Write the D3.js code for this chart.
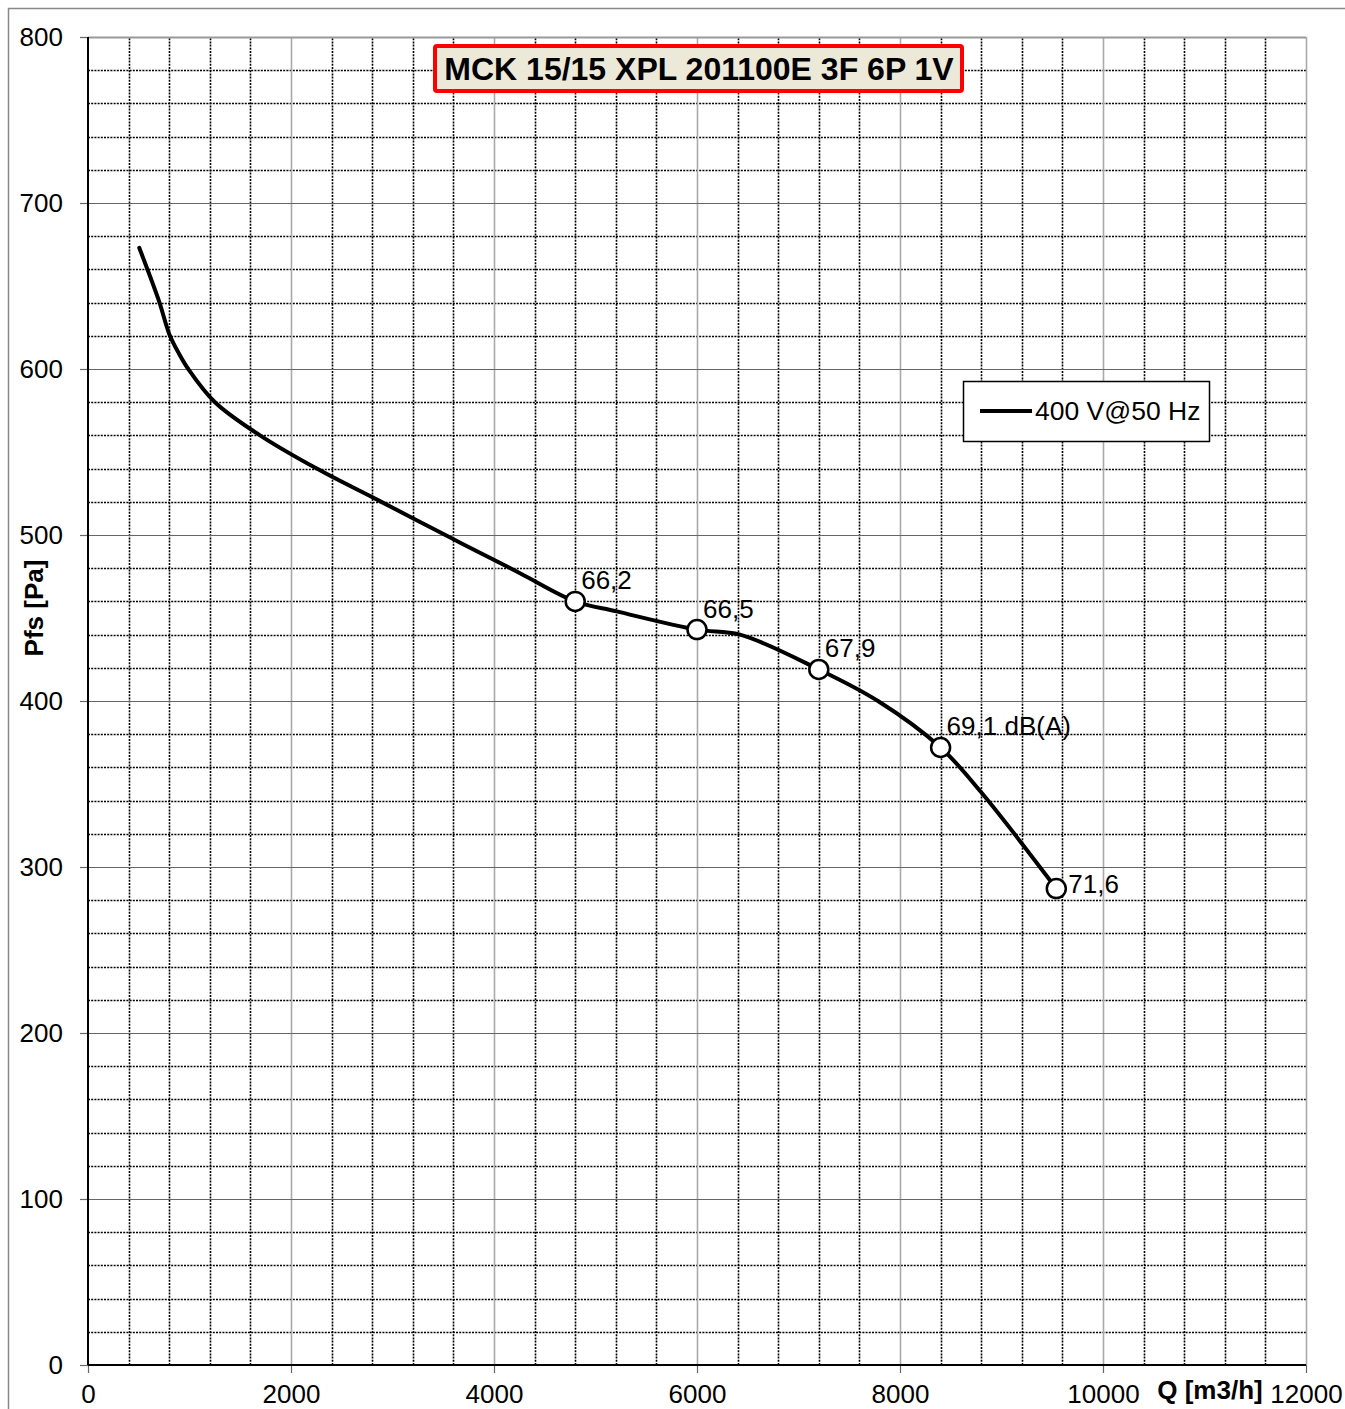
<!DOCTYPE html>
<html>
<head>
<meta charset="utf-8">
<script src="https://cdn.jsdelivr.net/npm/d3@7"></script>
<style>
body { margin: 0; background: #fff; }
text { font-family: "Liberation Sans", Arial, sans-serif; }
</style>
</head>
<body>
<div id="chart"></div>
<script>
// curve: Q [m3/h], Pfs [Pa]
var curveQ = [505, 699, 801, 890, 988, 1251, 1695, 2253, 2857, 3583, 4256, 4800, 5208, 6000, 6424, 7200, 7783, 8400, 8800, 9540];
var curveP = [673, 641, 621, 610, 600, 580, 560, 540, 521, 498, 477, 460, 454, 443, 440, 419, 400, 372, 345, 287];

// marked points with noise level
var markQ = [4800, 6000, 7200, 8400, 9540];
var markP = [460, 443, 419, 372, 287];
var markLabel = ["66,2", "66,5", "67,9", "69,1 dB(A)", "71,6"];
var markSide = ["above", "above", "above", "above", "right"];

var xTicks = [0, 2000, 4000, 6000, 8000, 10000, 12000];
var yTicks = [0, 100, 200, 300, 400, 500, 600, 700, 800];

var title = "MCK 15/15 XPL 201100E 3F 6P 1V";
var seriesName = "400 V@50 Hz";

var W = 1345, H = 1409;
var margin = {top: 37, right: 39, bottom: 44, left: 88};

var svg = d3.select("#chart")
  .append("svg")
  .attr("width", W)
  .attr("height", H);

// outer frame
svg.append("path")
  .attr("d", "M8.5," + H + "V8.5H" + W)
  .attr("fill", "none")
  .attr("stroke", "#888")
  .attr("stroke-width", 1.5);

var x = d3.scaleLinear()
  .domain([0, 12000])
  .range([margin.left, W - margin.right]);

var y = d3.scaleLinear()
  .domain([0, 800])
  .range([H - margin.bottom, margin.top]);

function px(v) { return Math.round(v) + 0.5; }

// minor dotted grid
var grid = svg.append("g");
grid.selectAll(".vminor")
  .data(d3.range(400, 12000, 400).filter(function (d) { return d % 2000 != 0; }))
  .enter().append("line")
  .attr("x1", function (d) { return px(x(d)); })
  .attr("x2", function (d) { return px(x(d)); })
  .attr("y1", y(0)).attr("y2", y(800))
  .attr("stroke", "#000")
  .attr("stroke-width", 1.6)
  .attr("stroke-dasharray", "2,1.2");

grid.selectAll(".hminor")
  .data(d3.range(20, 800, 20).filter(function (d) { return d % 100 != 0; }))
  .enter().append("line")
  .attr("y1", function (d) { return px(y(d)); })
  .attr("y2", function (d) { return px(y(d)); })
  .attr("x1", x(0)).attr("x2", x(12000))
  .attr("stroke", "#000")
  .attr("stroke-width", 1.6)
  .attr("stroke-dasharray", "2,1.2");

// major grid
grid.selectAll(".vmajor")
  .data(xTicks.slice(1))
  .enter().append("line")
  .attr("x1", function (d) { return px(x(d)); })
  .attr("x2", function (d) { return px(x(d)); })
  .attr("y1", y(0)).attr("y2", y(800))
  .attr("stroke", "#aaa")
  .attr("stroke-width", 1.6);

grid.selectAll(".hmajor")
  .data(yTicks.slice(1))
  .enter().append("line")
  .attr("y1", function (d) { return px(y(d)); })
  .attr("y2", function (d) { return px(y(d)); })
  .attr("x1", x(0)).attr("x2", x(12000))
  .attr("stroke", function (d) { return d == 800 ? "#999" : "#666"; })
  .attr("stroke-width", function (d) { return d == 800 ? 2 : 1; });

// axes
var xAxis = svg.append("g")
  .attr("transform", "translate(0," + y(0) + ")")
  .call(d3.axisBottom(x).tickValues(xTicks).tickSize(8).tickPadding(12).tickFormat(d3.format("d")));
xAxis.select(".domain").remove();
xAxis.selectAll("line").attr("stroke", "#666").attr("stroke-width", 1.2);
xAxis.selectAll("text").attr("font-size", 26).attr("fill", "#000")
  .style("font-family", "'Liberation Sans', Arial, sans-serif");

var yAxis = svg.append("g")
  .attr("transform", "translate(" + x(0) + ",0)")
  .call(d3.axisLeft(y).tickValues(yTicks).tickSize(8).tickPadding(17));
yAxis.select(".domain").remove();
yAxis.selectAll("line").attr("stroke", "#666").attr("stroke-width", 1.2);
yAxis.selectAll("text").attr("font-size", 26).attr("fill", "#000")
  .style("font-family", "'Liberation Sans', Arial, sans-serif");

svg.append("line")
  .attr("x1", x(0)).attr("x2", x(0))
  .attr("y1", y(800)).attr("y2", y(0))
  .attr("stroke", "#000").attr("stroke-width", 2);
svg.append("line")
  .attr("x1", x(0)).attr("x2", x(12000))
  .attr("y1", y(0)).attr("y2", y(0))
  .attr("stroke", "#000").attr("stroke-width", 2);

// axis titles
svg.append("text")
  .attr("transform", "translate(" + 43 + "," + 608 + ") rotate(-90)")
  .attr("text-anchor", "middle")
  .attr("font-size", 26)
  .attr("font-weight", "bold")
  .text("Pfs [Pa]");

svg.append("text")
  .attr("x", 1210)
  .attr("y", 1399)
  .attr("text-anchor", "middle")
  .attr("font-size", 26)
  .attr("font-weight", "bold")
  .text("Q [m3/h]");

// curve
var pts = curveQ.map(function (q, i) { return [q, curveP[i]]; });
var line = d3.line()
  .x(function (d) { return x(d[0]); })
  .y(function (d) { return y(d[1]); })
  .curve(d3.curveCatmullRom.alpha(0.5));

svg.append("path")
  .datum(pts)
  .attr("d", line)
  .attr("fill", "none")
  .attr("stroke", "#000")
  .attr("stroke-width", 4)
  .attr("stroke-linejoin", "round")
  .attr("stroke-linecap", "round");

// markers
var marks = markQ.map(function (q, i) {
  return {q: q, p: markP[i], label: markLabel[i], side: markSide[i]};
});

svg.selectAll(".mark")
  .data(marks)
  .enter().append("circle")
  .attr("cx", function (d) { return x(d.q); })
  .attr("cy", function (d) { return y(d.p); })
  .attr("r", 9.5)
  .attr("fill", "#fff")
  .attr("stroke", "#000")
  .attr("stroke-width", 2.5);

svg.selectAll(".mlabel")
  .data(marks)
  .enter().append("text")
  .attr("x", function (d) { return x(d.q) + (d.side == "right" ? 12 : 6); })
  .attr("y", function (d) { return y(d.p) + (d.side == "right" ? 4 : -12); })
  .attr("font-size", 26)
  .text(function (d) { return d.label; });

// legend
var lg = svg.append("g");
lg.append("rect")
  .attr("x", 963.5).attr("y", 381.5)
  .attr("width", 246).attr("height", 60)
  .attr("fill", "#fff")
  .attr("stroke", "#000")
  .attr("stroke-width", 1.5);
lg.append("line")
  .attr("x1", 980).attr("x2", 1032)
  .attr("y1", 411).attr("y2", 411)
  .attr("stroke", "#000")
  .attr("stroke-width", 4);
lg.append("text")
  .attr("x", 1035).attr("y", 420)
  .attr("font-size", 26.5)
  .text(seriesName);

// title box
var tb = svg.append("g");
tb.append("rect")
  .attr("x", 435).attr("y", 46)
  .attr("width", 527).attr("height", 45)
  .attr("rx", 2)
  .attr("fill", "#ECE9D8")
  .attr("stroke", "#f00")
  .attr("stroke-width", 4);
tb.append("text")
  .attr("x", 699).attr("y", 80)
  .attr("text-anchor", "middle")
  .attr("font-size", 32)
  .attr("font-weight", "bold")
  .text(title);
</script>
</body>
</html>
